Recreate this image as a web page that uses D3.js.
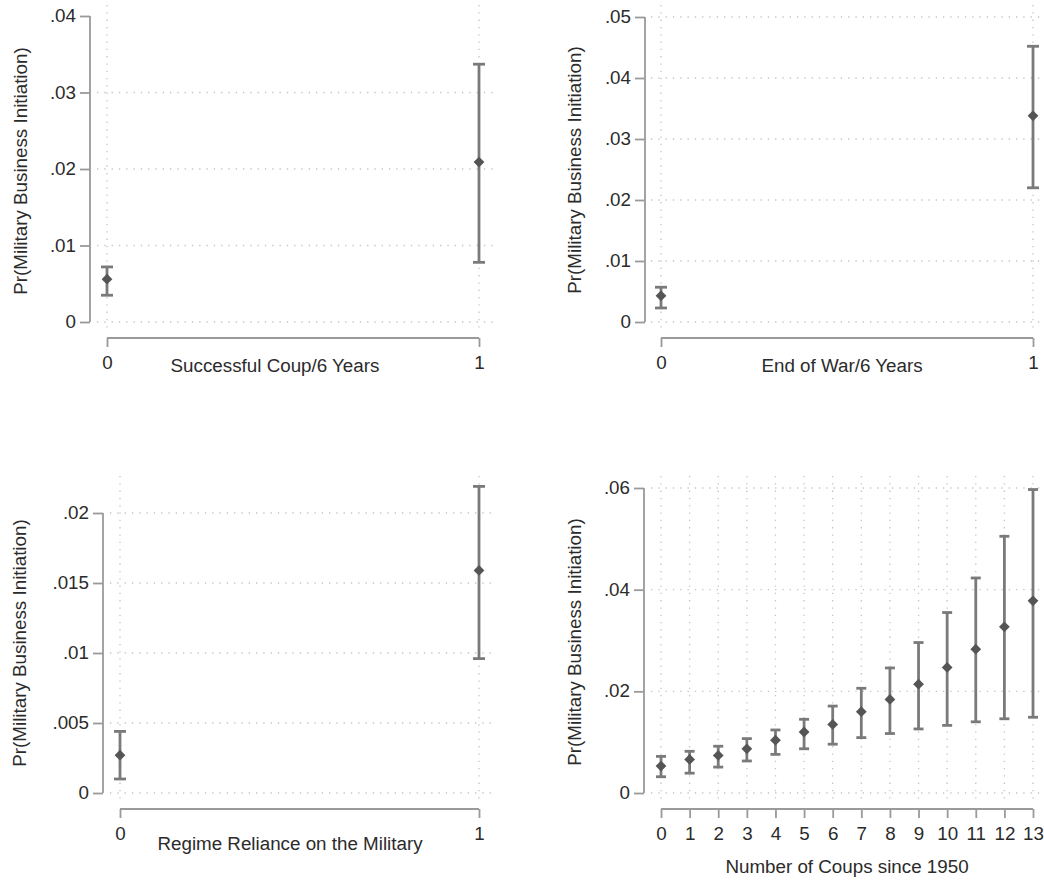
<!DOCTYPE html>
<html>
<head>
<meta charset="utf-8">
<script src="https://cdn.jsdelivr.net/npm/d3@7"></script>
<style>
  html, body { margin: 0; padding: 0; background: #fff; }
  svg { display: block; font-family: "Liberation Sans", Arial, Helvetica, sans-serif; }
</style>
</head>
<body>
<svg id="chart" width="1044" height="882"></svg>
<script>
// ---- data ----
const yTitle = 'Pr(Military Business Initiation)';

const binaryX = [0, 1];

const coupEst = [0.0056, 0.0209];
const coupLo  = [0.0035, 0.0078];
const coupHi  = [0.0072, 0.0337];
const coupTicks = [0, 0.01, 0.02, 0.03, 0.04];

const warEst = [0.0043, 0.0338];
const warLo  = [0.0023, 0.0220];
const warHi  = [0.0057, 0.0452];
const warTicks = [0, 0.01, 0.02, 0.03, 0.04, 0.05];

const relyEst = [0.0027, 0.0159];
const relyLo  = [0.0010, 0.0096];
const relyHi  = [0.0044, 0.0219];
const relyTicks = [0, 0.005, 0.01, 0.015, 0.02];

const coupsX   = [0, 1, 2, 3, 4, 5, 6, 7, 8, 9, 10, 11, 12, 13];
const coupsEst = [0.0053, 0.0066, 0.0074, 0.0087, 0.0104, 0.0120, 0.0135, 0.0160, 0.0184, 0.0214, 0.0247, 0.0283, 0.0327, 0.0378];
const coupsLo  = [0.0032, 0.0039, 0.0051, 0.0063, 0.0076, 0.0087, 0.0096, 0.0109, 0.0117, 0.0126, 0.0133, 0.0140, 0.0146, 0.0149];
const coupsHi  = [0.0072, 0.0082, 0.0092, 0.0107, 0.0124, 0.0145, 0.0171, 0.0206, 0.0246, 0.0296, 0.0355, 0.0423, 0.0505, 0.0597];
const coupsTicks = [0, 0.02, 0.04, 0.06];

const panels = [
  { x: binaryX, est: coupEst, lo: coupLo, hi: coupHi, yTicks: coupTicks, gridTop: false,
    xTitle: 'Successful Coup/6 Years',
    xr: [107, 479], yr: [322, 16], yAxisX: 90, xAxisY: 338, gx: [97, 493], gy: [5, 332],
    tickBase: 369, titleX: 275, titleBase: 372, yTitleX: 20, yTitleY: 171, cap: 12 },
  { x: binaryX, est: warEst, lo: warLo, hi: warHi, yTicks: warTicks, gridTop: true,
    xTitle: 'End of War/6 Years',
    xr: [661, 1033], yr: [322, 17], yAxisX: 645, xAxisY: 338, gx: [651, 1040], gy: [5, 332],
    tickBase: 369, titleX: 842, titleBase: 372, yTitleX: 574, yTitleY: 170, cap: 12 },
  { x: binaryX, est: relyEst, lo: relyLo, hi: relyHi, yTicks: relyTicks, gridTop: true,
    xTitle: 'Regime Reliance on the Military',
    xr: [120, 479], yr: [793, 513], yAxisX: 103, xAxisY: 809, gx: [110, 493], gy: [476, 803],
    tickBase: 840, titleX: 290, titleBase: 850, yTitleX: 19, yTitleY: 643, cap: 12 },
  { x: coupsX, est: coupsEst, lo: coupsLo, hi: coupsHi, yTicks: coupsTicks, gridTop: true,
    xTitle: 'Number of Coups since 1950',
    xr: [661, 1033], yr: [793, 488], yAxisX: 644, xAxisY: 809, gx: [651, 1040], gy: [476, 803],
    tickBase: 840, titleX: 847, titleBase: 873, yTitleX: 574, yTitleY: 642, cap: 10 }
];

const svg = d3.select('#chart');
const fmt = (v) => (v === 0 ? '0' : String(+v.toFixed(4)).replace(/^0/, ''));

const GRID = '#c4c4c4';
const AXIS = '#9a9a9a';
const BAR = '#7a7a7a';
const MARK = '#555555';
const TEXT = '#2b2b2b';
const FS = 18.8;

panels.forEach((p) => {
  const g = svg.append('g');
  const x = d3.scaleLinear().domain(d3.extent(p.x)).range(p.xr);
  const y = d3.scaleLinear().domain(d3.extent(p.yTicks)).range(p.yr);
  const yMax = d3.max(p.yTicks);

  // dotted grid
  const hGrid = p.gridTop ? p.yTicks : p.yTicks.filter((t) => t !== yMax);
  g.selectAll('line.hgrid').data(hGrid).join('line')
    .attr('x1', p.gx[0]).attr('x2', p.gx[1])
    .attr('y1', (d) => y(d)).attr('y2', (d) => y(d))
    .attr('stroke', GRID).attr('stroke-width', 1.3).attr('stroke-dasharray', '1.3,6');
  g.selectAll('line.vgrid').data(p.x).join('line')
    .attr('x1', (d) => x(d)).attr('x2', (d) => x(d))
    .attr('y1', p.gy[0]).attr('y2', p.gy[1])
    .attr('stroke', GRID).attr('stroke-width', 1.3).attr('stroke-dasharray', '1.3,6');

  // y axis
  const yAxis = d3.axisLeft(y).tickValues(p.yTicks).tickFormat(fmt).tickSize(10).tickPadding(4);
  const ya = g.append('g').attr('transform', `translate(${p.yAxisX},0)`).call(yAxis);
  ya.select('.domain').attr('stroke', AXIS).attr('stroke-width', 1.8)
    .attr('d', `M-0,${y(yMax)}V${y(0)}`);
  ya.selectAll('.tick line').attr('stroke', AXIS).attr('stroke-width', 1.8);
  ya.selectAll('.tick text').attr('fill', TEXT).attr('font-size', FS).attr('dy', '0.62em')
    .attr('y', -6);

  // x axis
  const xAxis = d3.axisBottom(x).tickValues(p.x).tickFormat(d3.format('d')).tickSize(9).tickPadding(0);
  const xa = g.append('g').attr('transform', `translate(0,${p.xAxisY})`).call(xAxis);
  xa.select('.domain').attr('stroke', AXIS).attr('stroke-width', 1.8)
    .attr('d', `M${p.xr[0]},0H${p.xr[1]}`);
  xa.selectAll('.tick line').attr('stroke', AXIS).attr('stroke-width', 1.8);
  xa.selectAll('.tick text').attr('fill', TEXT).attr('font-size', FS)
    .attr('dy', null).attr('y', p.tickBase - p.xAxisY);

  // titles
  g.append('text').attr('x', p.titleX).attr('y', p.titleBase)
    .attr('text-anchor', 'middle').attr('fill', TEXT).attr('font-size', FS).text(p.xTitle);
  g.append('text')
    .attr('transform', `translate(${p.yTitleX},${p.yTitleY}) rotate(-90)`)
    .attr('text-anchor', 'middle').attr('dy', '0.35em')
    .attr('fill', TEXT).attr('font-size', FS).text(yTitle);

  // error bars
  const idx = d3.range(p.x.length);
  g.selectAll('line.bar').data(idx).join('line')
    .attr('x1', (i) => x(p.x[i])).attr('x2', (i) => x(p.x[i]))
    .attr('y1', (i) => y(p.lo[i])).attr('y2', (i) => y(p.hi[i]))
    .attr('stroke', BAR).attr('stroke-width', 2.8);
  ['lo', 'hi'].forEach((k) => {
    g.selectAll(`line.cap-${k}`).data(idx).join('line')
      .attr('x1', (i) => x(p.x[i]) - p.cap / 2).attr('x2', (i) => x(p.x[i]) + p.cap / 2)
      .attr('y1', (i) => y(p[k][i])).attr('y2', (i) => y(p[k][i]))
      .attr('stroke', BAR).attr('stroke-width', 2.8);
  });

  // diamond markers
  g.selectAll('path.pt').data(idx).join('path')
    .attr('d', d3.symbol().type(d3.symbolSquare).size(58))
    .attr('transform', (i) => `translate(${x(p.x[i])},${y(p.est[i])}) rotate(45)`)
    .attr('fill', MARK);
});
</script>
</body>
</html>
